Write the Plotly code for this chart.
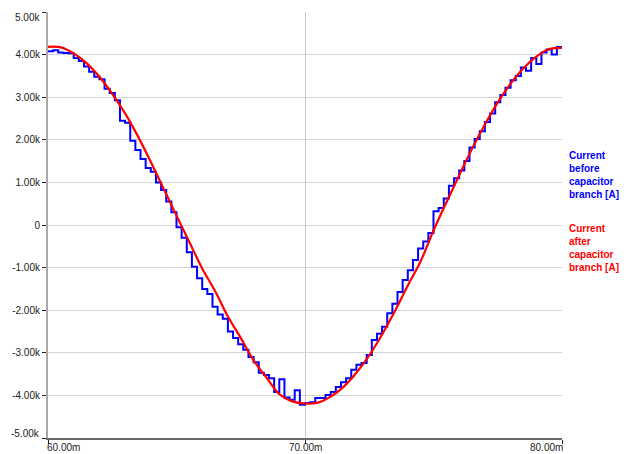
import plotly.graph_objects as go

# time in ms (axis labelled with "m" suffix), current in kA
t_blue = [round(60 + 0.2 * i, 1) for i in range(101)]
i_before = [
    4.08, 4.10, 4.05, 4.04, 4.03, 3.92, 3.85, 3.72, 3.60, 3.48,
    3.42, 3.20, 3.10, 2.93, 2.45, 2.40, 1.98, 1.76, 1.55, 1.34,
    1.25, 1.00, 0.82, 0.55, 0.30, -0.05, -0.30, -0.64, -0.98, -1.25,
    -1.50, -1.62, -1.92, -2.10, -2.20, -2.50, -2.65, -2.80, -2.93, -3.10,
    -3.22, -3.47, -3.52, -3.60, -3.92, -3.62, -4.05, -4.10, -3.88, -4.22,
    -4.18, -4.16, -4.06, -4.06, -3.99, -3.92, -3.80, -3.69, -3.60, -3.40,
    -3.28, -3.24, -3.05, -2.70, -2.55, -2.39, -2.07, -1.85, -1.57, -1.29,
    -1.06, -0.82, -0.55, -0.39, -0.19, 0.32, 0.40, 0.62, 0.92, 1.10,
    1.28, 1.50, 1.82, 2.02, 2.20, 2.42, 2.62, 2.88, 3.05, 3.22,
    3.40, 3.50, 3.70, 3.62, 3.92, 3.78, 4.05, 4.12, 4.00, 4.18,
    4.18,
]

t_red = [round(60 + 0.5 * i, 1) for i in range(41)]
i_after = [
    4.18, 4.17, 4.03, 3.80, 3.48, 3.08, 2.62, 2.08, 1.48, 0.85,
    0.22, -0.40, -1.02, -1.55, -2.15, -2.65, -3.18, -3.58, -3.97, -4.14,
    -4.19, -4.17, -4.03, -3.80, -3.47, -3.06, -2.57, -2.02, -1.42, -0.85,
    -0.13, 0.53, 1.17, 1.79, 2.36, 2.88, 3.32, 3.68, 3.95, 4.13,
    4.16,
]

x_ticks = [60, 70, 80]
x_labels = ["60.00m", "70.00m", "80.00m"]
y_ticks = [5000, 4000, 3000, 2000, 1000, 0, -1000, -2000, -3000, -4000, -5000]
y_labels = ["5.00k", "4.00k", "3.00k", "2.00k", "1.00k", "0",
            "-1.00k", "-2.00k", "-3.00k", "-4.00k", "-5.00k"]
y_grid = [4000, 3000, 2000, 1000, 0, -1000, -2000, -3000, -4000]

TXT = "#222222"
fig = go.Figure()
# grid-only trace so yaxis2 is rendered
fig.add_trace(go.Scatter(x=[None], y=[None], yaxis="y2", showlegend=False,
                         hoverinfo="skip"))
fig.add_trace(go.Scatter(x=t_blue, y=[v * 1000 for v in i_before], mode="lines",
                         line=dict(color="#0000ff", width=2, shape="hv"),
                         name="Current before capacitor branch [A]", showlegend=False))
fig.add_trace(go.Scatter(x=t_red, y=[v * 1000 for v in i_after], mode="lines",
                         line=dict(color="#ff0000", width=2.2, shape="spline"),
                         name="Current after capacitor branch [A]", showlegend=False))

fig.update_layout(
    width=630, height=454,
    margin=dict(l=48, r=68, t=12, b=16, autoexpand=False),
    plot_bgcolor="white", paper_bgcolor="white",
    font=dict(family="Liberation Sans, Arial, sans-serif", size=10, color=TXT),
    xaxis=dict(range=[60, 80], tickvals=x_ticks, ticktext=["", "", ""],
               showgrid=True, gridcolor="#c8c8c8", gridwidth=1,
               showline=True, linecolor="#6a6a6a", linewidth=2,
               ticks="outside", ticklen=4, tickcolor=TXT, zeroline=False,
               automargin=False),
    yaxis=dict(range=[-5000, 5000], tickvals=y_ticks,
               ticktext=[""] + y_labels[1:-1] + [""],
               showgrid=False,
               showline=True, linecolor="#a8a8a8", linewidth=2,
               ticks="outside", ticklen=4, tickcolor=TXT, zeroline=False,
               automargin=False),
    yaxis2=dict(range=[-5000, 5000], overlaying="y", tickvals=y_grid,
                showticklabels=False, showgrid=True, gridcolor="#d4d4d4",
                gridwidth=1, zeroline=False, showline=False, automargin=False),
)

# edge y tick labels, nudged inside as in the original
fig.add_annotation(x=0, y=1, xref="paper", yref="paper", xanchor="right",
                   yanchor="middle", xshift=-6, yshift=-5, showarrow=False,
                   text=y_labels[0], font=dict(size=10, color=TXT))
fig.add_annotation(x=0, y=0, xref="paper", yref="paper", xanchor="right",
                   yanchor="middle", xshift=-6, yshift=5, showarrow=False,
                   text=y_labels[-1], font=dict(size=10, color=TXT))
# x tick labels
anchors = ["left", "center", "right"]
shifts = [-3, 0, 3]
for xv, lab, anc, sh in zip(x_ticks, x_labels, anchors, shifts):
    fig.add_annotation(x=xv, y=0, xref="x", yref="paper", xanchor=anc,
                       yanchor="middle", xshift=sh, yshift=-9, showarrow=False,
                       text=lab, font=dict(size=10, color=TXT))

fig.add_annotation(x=(567 - 48) / 514, y=0.617, xref="paper", yref="paper",
                   xanchor="left", yanchor="middle", align="left", showarrow=False,
                   text="<b>Current<br>before<br>capacitor<br>branch [A]</b>",
                   font=dict(size=10, color="#0000ff"))
fig.add_annotation(x=(567 - 48) / 514, y=0.445, xref="paper", yref="paper",
                   xanchor="left", yanchor="middle", align="left", showarrow=False,
                   text="<b>Current<br>after<br>capacitor<br>branch [A]</b>",
                   font=dict(size=10, color="#ff0000"))

fig.write_html("out.html")
